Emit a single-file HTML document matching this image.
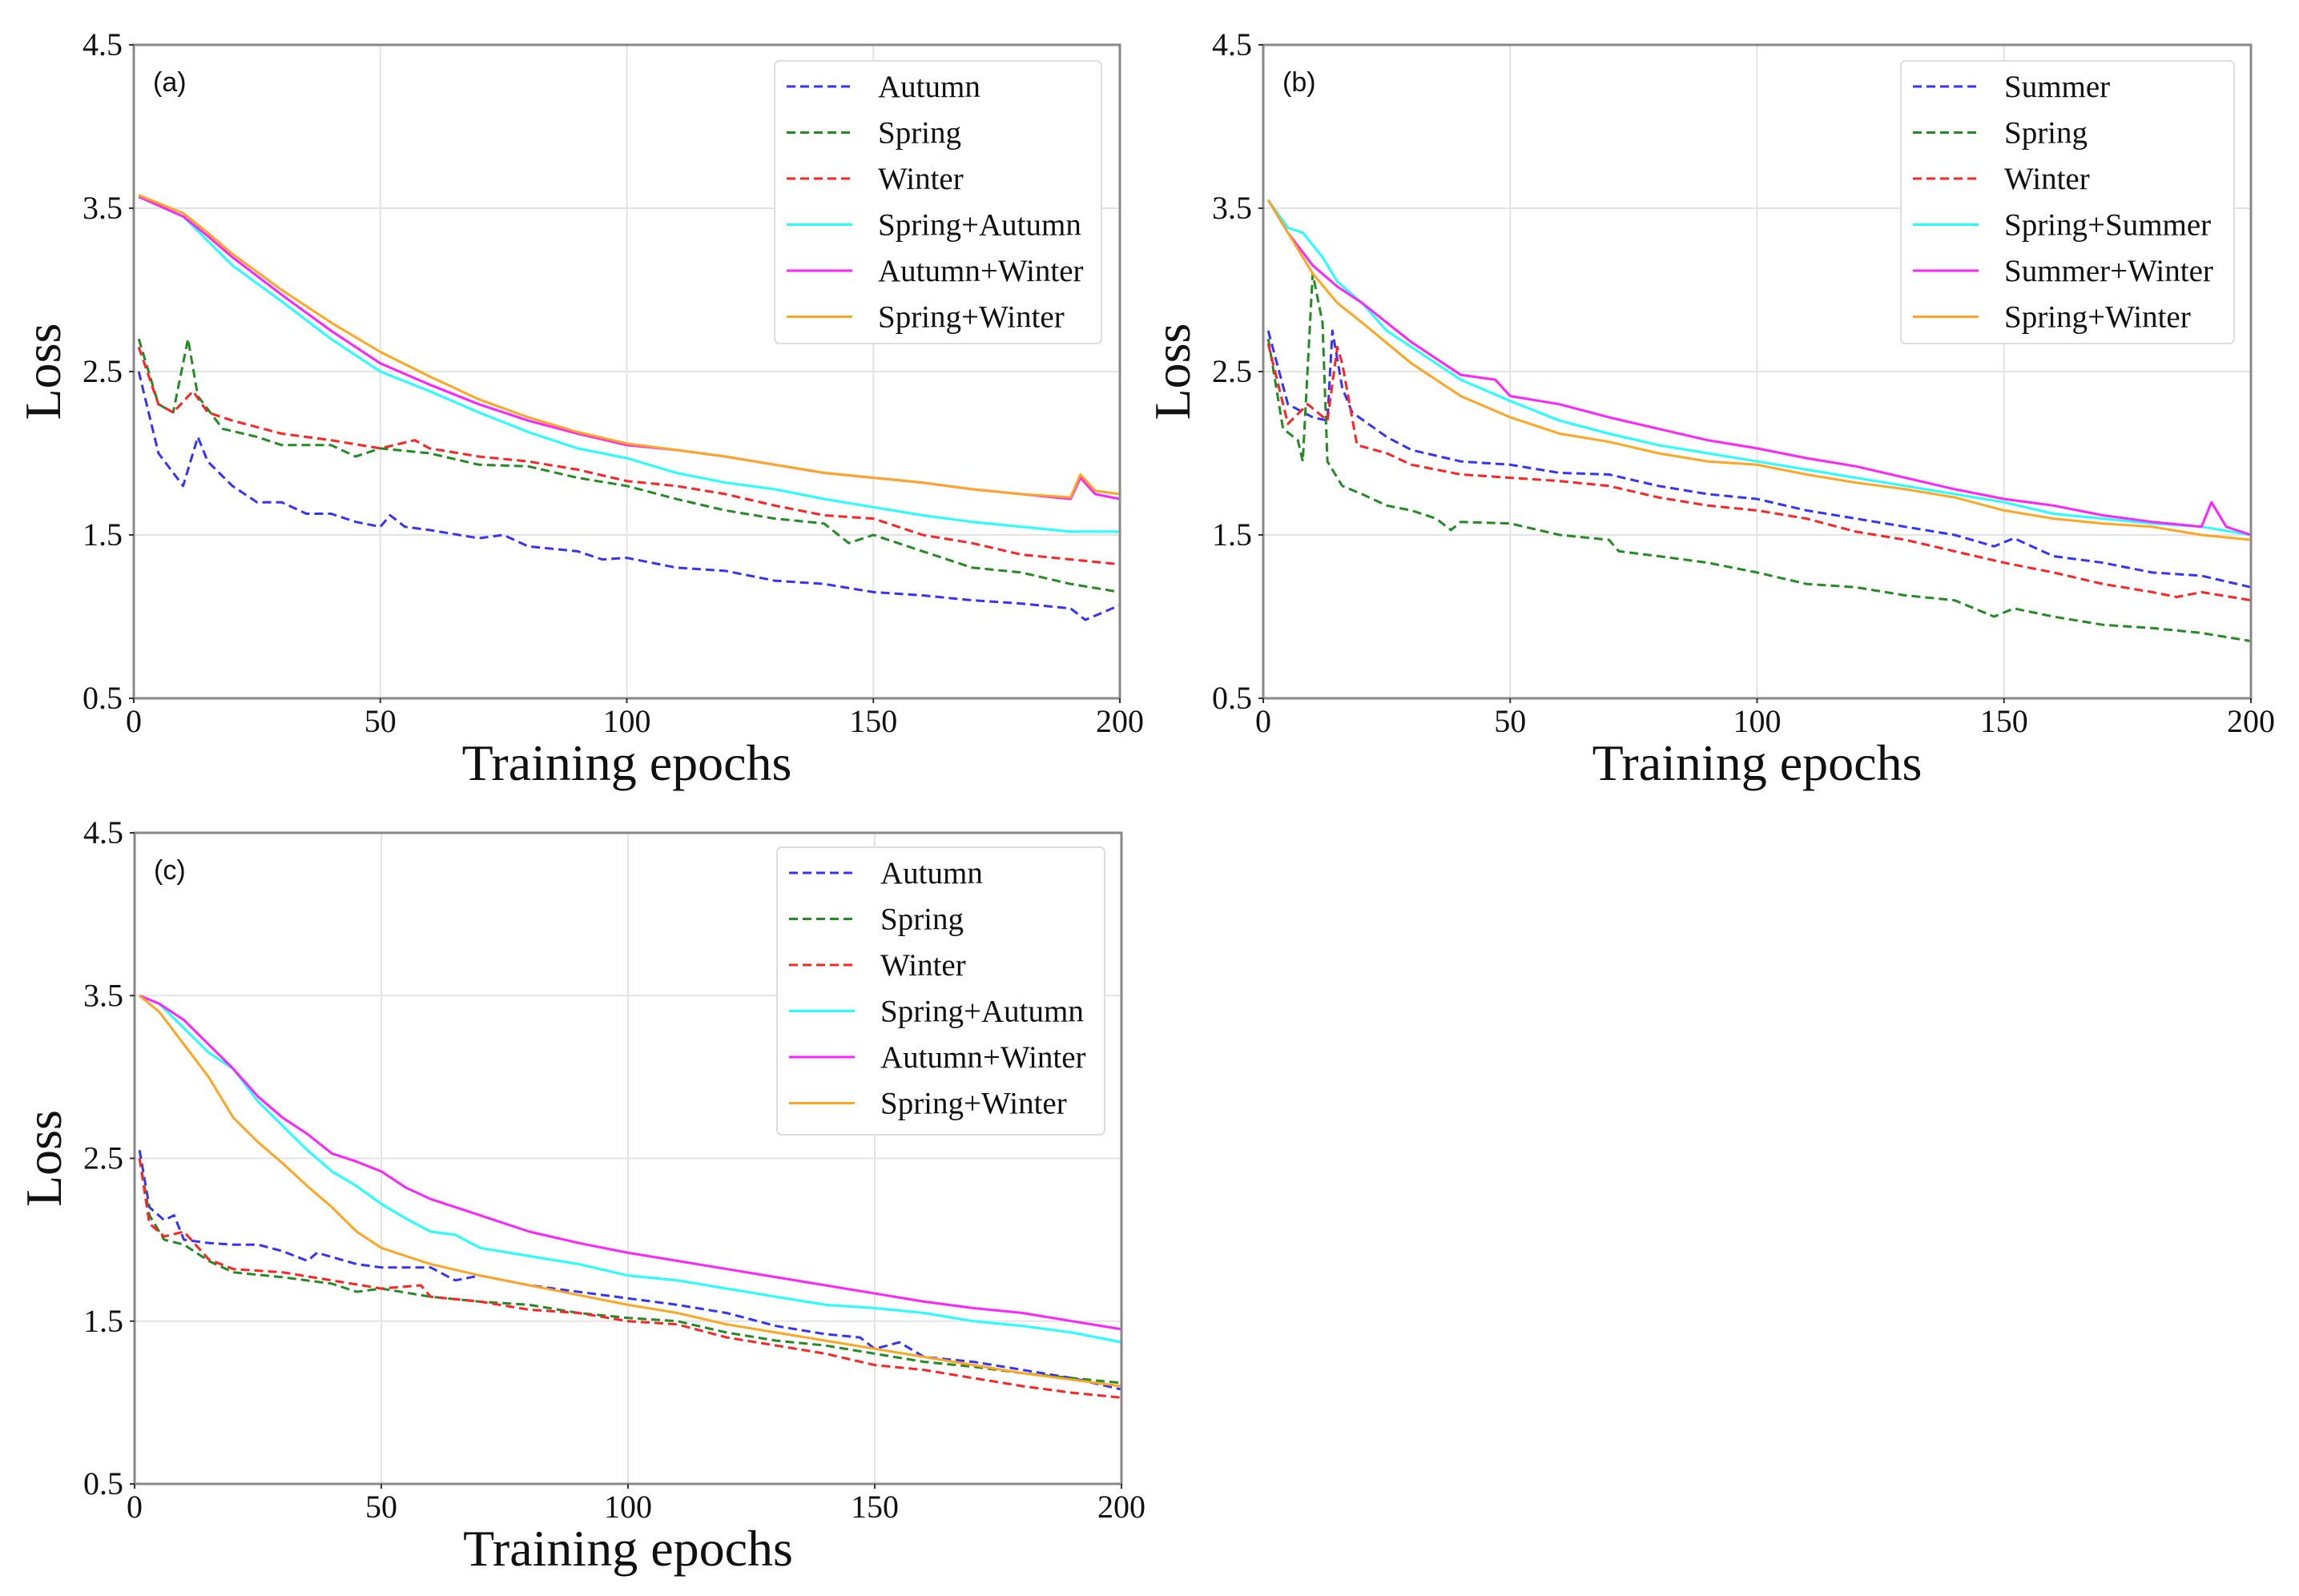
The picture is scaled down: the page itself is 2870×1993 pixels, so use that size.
<!DOCTYPE html>
<html><head><meta charset="utf-8"><style>
html,body{margin:0;padding:0;background:#fff;}
svg{display:block;}
</style></head><body>
<svg id="fig" width="2870" height="1993" viewBox="0 0 2870 1993" xmlns="http://www.w3.org/2000/svg"></svg>
<script>
// ---- data: panel (a) ----
const aAutumnX=[1,5,10,13,15,20,25,30,35,40,45,50,52,55,60,70,75,80,90,95,100,110,120,130,140,150,160,170,180,190,193,200];
const aAutumnY=[2.5,2.0,1.8,2.1,1.95,1.8,1.7,1.7,1.63,1.63,1.58,1.55,1.62,1.55,1.53,1.48,1.5,1.43,1.4,1.35,1.36,1.3,1.28,1.22,1.2,1.15,1.13,1.1,1.08,1.05,0.98,1.07];
const aSpringX=[1,5,8,11,13,18,25,30,40,45,50,60,70,80,90,100,110,120,130,140,145,150,160,170,180,190,200];
const aSpringY=[2.7,2.3,2.25,2.7,2.35,2.15,2.1,2.05,2.05,1.98,2.03,2.0,1.93,1.92,1.85,1.8,1.72,1.65,1.6,1.57,1.45,1.5,1.4,1.3,1.27,1.2,1.15];
const aWinterX=[1,5,8,12,15,20,30,40,50,57,60,70,80,90,100,110,120,130,140,150,160,170,180,190,200];
const aWinterY=[2.65,2.3,2.25,2.38,2.25,2.2,2.12,2.08,2.03,2.08,2.03,1.98,1.95,1.9,1.83,1.8,1.75,1.68,1.62,1.6,1.5,1.45,1.38,1.35,1.32];
const aSAX=[1,10,15,20,30,40,50,60,70,80,90,100,110,120,130,140,150,160,170,180,190,200];
const aSAY=[3.57,3.45,3.3,3.15,2.93,2.7,2.5,2.38,2.25,2.13,2.03,1.97,1.88,1.82,1.78,1.72,1.67,1.62,1.58,1.55,1.52,1.52];
const aAWX=[1,10,15,20,30,40,50,60,70,80,90,100,110,120,130,140,150,160,170,180,190,192,195,200];
const aAWY=[3.57,3.45,3.33,3.2,2.97,2.75,2.55,2.42,2.3,2.2,2.12,2.05,2.02,1.98,1.93,1.88,1.85,1.82,1.78,1.75,1.72,1.85,1.75,1.72];
const aSWX=[1,10,15,20,30,40,50,60,70,80,90,100,110,120,130,140,150,160,170,180,190,192,195,200];
const aSWY=[3.58,3.47,3.35,3.22,3.0,2.8,2.62,2.47,2.33,2.22,2.13,2.06,2.02,1.98,1.93,1.88,1.85,1.82,1.78,1.75,1.73,1.87,1.77,1.75];
// ---- data: panel (b) ----
const bSummerX=[1,5,10,13,14,16,18,25,30,40,50,60,70,80,90,100,110,120,130,140,148,152,160,170,180,190,200];
const bSummerY=[2.75,2.3,2.22,2.2,2.75,2.4,2.25,2.1,2.02,1.95,1.93,1.88,1.87,1.8,1.75,1.72,1.65,1.6,1.55,1.5,1.43,1.48,1.37,1.33,1.27,1.25,1.18];
const bSpringX=[1,4,7,8,10,12,13,16,20,25,30,35,38,40,50,60,70,72,80,90,100,110,120,130,140,148,152,160,170,180,190,200];
const bSpringY=[2.7,2.15,2.08,1.95,3.1,2.8,1.95,1.8,1.75,1.68,1.65,1.6,1.53,1.58,1.57,1.5,1.47,1.4,1.37,1.33,1.27,1.2,1.18,1.13,1.1,1.0,1.05,1.0,0.95,0.93,0.9,0.85];
const bWinterX=[1,5,9,13,15,16,19,25,30,40,50,60,70,80,90,100,110,120,130,140,150,160,170,180,185,190,200];
const bWinterY=[2.67,2.18,2.3,2.2,2.65,2.55,2.05,2.0,1.93,1.87,1.85,1.83,1.8,1.73,1.68,1.65,1.6,1.52,1.47,1.4,1.33,1.27,1.2,1.15,1.12,1.15,1.1];
const bSSX=[1,5,8,12,15,20,25,30,40,50,60,70,80,90,100,110,120,130,140,150,160,170,180,190,200];
const bSSY=[3.55,3.38,3.35,3.2,3.05,2.92,2.75,2.65,2.45,2.32,2.2,2.12,2.05,2.0,1.95,1.9,1.85,1.8,1.75,1.7,1.63,1.6,1.57,1.55,1.5];
const bSWiX=[1,5,10,15,20,30,40,47,50,60,70,80,90,100,110,120,130,140,150,160,170,180,190,192,195,200];
const bSWiY=[3.55,3.35,3.15,3.02,2.92,2.68,2.48,2.45,2.35,2.3,2.22,2.15,2.08,2.03,1.97,1.92,1.85,1.78,1.72,1.68,1.62,1.58,1.55,1.7,1.55,1.5];
const bSpWX=[1,5,10,15,20,30,40,50,60,70,80,90,100,110,120,130,140,150,160,170,180,190,200];
const bSpWY=[3.55,3.35,3.1,2.92,2.8,2.55,2.35,2.22,2.12,2.07,2.0,1.95,1.93,1.87,1.82,1.78,1.73,1.65,1.6,1.57,1.55,1.5,1.47];
// ---- data: panel (c) ----
const cAutumnX=[1,3,6,8,10,15,20,25,30,35,37,45,50,60,65,70,80,90,100,110,120,130,140,147,150,155,160,170,180,190,200];
const cAutumnY=[2.55,2.2,2.12,2.15,2.0,1.98,1.97,1.97,1.93,1.87,1.92,1.85,1.83,1.83,1.75,1.78,1.72,1.68,1.64,1.6,1.55,1.47,1.42,1.4,1.33,1.37,1.28,1.25,1.2,1.15,1.08];
const cSpringX=[1,3,6,10,15,20,30,40,45,50,60,70,80,90,100,110,120,130,140,150,160,170,180,190,200];
const cSpringY=[2.5,2.15,2.0,1.97,1.87,1.8,1.77,1.73,1.68,1.7,1.65,1.62,1.6,1.55,1.52,1.5,1.43,1.38,1.35,1.3,1.25,1.22,1.18,1.15,1.12];
const cWinterX=[1,3,6,10,15,20,30,40,50,58,60,70,80,90,100,110,120,130,140,150,160,170,180,190,200];
const cWinterY=[2.5,2.1,2.02,2.05,1.88,1.82,1.8,1.75,1.7,1.72,1.65,1.62,1.57,1.55,1.5,1.48,1.4,1.35,1.3,1.23,1.2,1.15,1.1,1.06,1.03];
const cSAX=[1,5,10,15,20,25,30,35,40,45,50,55,60,65,70,80,90,100,110,120,130,140,150,160,170,180,190,200];
const cSAY=[3.5,3.45,3.3,3.15,3.05,2.85,2.7,2.55,2.42,2.33,2.22,2.13,2.05,2.03,1.95,1.9,1.85,1.78,1.75,1.7,1.65,1.6,1.58,1.55,1.5,1.47,1.43,1.37];
const cAWX=[1,5,10,15,20,25,30,35,40,45,50,55,60,70,80,90,100,110,120,130,140,150,160,170,180,190,200];
const cAWY=[3.5,3.45,3.35,3.2,3.05,2.88,2.75,2.65,2.53,2.48,2.42,2.32,2.25,2.15,2.05,1.98,1.92,1.87,1.82,1.77,1.72,1.67,1.62,1.58,1.55,1.5,1.45];
const cSWX=[1,5,10,15,20,25,30,35,40,45,50,55,60,70,80,90,100,110,120,130,140,150,160,170,180,190,200];
const cSWY=[3.5,3.4,3.2,3.0,2.75,2.6,2.47,2.33,2.2,2.05,1.95,1.9,1.85,1.78,1.72,1.66,1.6,1.55,1.48,1.43,1.38,1.33,1.28,1.23,1.18,1.14,1.1];
const xTicks=[0,50,100,150,200];
const yTicks=[0.5,1.5,2.5,3.5,4.5];
const labelsA=["Autumn","Spring","Winter","Spring+Autumn","Autumn+Winter","Spring+Winter"];
const labelsB=["Summer","Spring","Winter","Spring+Summer","Summer+Winter","Spring+Winter"];

const NS="http://www.w3.org/2000/svg";
const svg=document.getElementById('fig');
function mk(tag,attrs,parent){const e=document.createElementNS(NS,tag);for(const k in attrs)e.setAttribute(k,attrs[k]);(parent||svg).appendChild(e);return e;}
const colors=["#3333ff","#228b22","#ff2222","#22ffff","#ff22ff","#ffa520"];
const dashed=[true,true,true,false,false,false];

function panel(cfg){
  const g=mk('g',{});
  
  
  const {x0,x1,y0,y1}=cfg;
  const sx=v=>x0+(v-0)/200*(x1-x0);
  const sy=v=>y0-(v-0.5)/4*(y0-y1);
  xTicks.forEach(t=>{const l=mk('line',{x1:sx(t),x2:sx(t),y1:y1,y2:y0,stroke:'#e3e3e3','stroke-width':2},g);
    });
  yTicks.forEach(t=>{const l=mk('line',{x1:x0,x2:x1,y1:sy(t),y2:sy(t),stroke:'#e3e3e3','stroke-width':2},g);
    });
  cfg.series.forEach((s,i)=>{
    const d=s[0].map((x,j)=>(j?'L':'M')+sx(x).toFixed(1)+','+sy(s[1][j]).toFixed(1)).join(' ');
    const p=mk('path',{d:d,fill:'none',stroke:colors[i],'stroke-width':3,'stroke-linejoin':'round'},g);
    if(dashed[i])p.setAttribute('stroke-dasharray','11,6');
    
    
  });
  const fr=mk('rect',{x:x0,y:y1,width:x1-x0,height:y0-y1,fill:'none',stroke:'#888','stroke-width':3},g);
  
  xTicks.forEach(t=>{const tx=mk('text',{x:sx(t),y:y0+42,'text-anchor':'middle','font-family':'Liberation Serif, serif','font-size':40,fill:'#111'},g);
    tx.textContent=t;
    mk('line',{x1:sx(t),x2:sx(t),y1:y0,y2:y0+6,stroke:'#333','stroke-width':2},g);});
  yTicks.forEach(t=>{const tx=mk('text',{x:x0-14,y:sy(t)+13,'text-anchor':'end','font-family':'Liberation Serif, serif','font-size':40,fill:'#111'},g);
    tx.textContent=t.toFixed(1);
    mk('line',{x1:x0-6,x2:x0,y1:sy(t),y2:sy(t),stroke:'#333','stroke-width':2},g);});
  const xt=mk('text',{x:(x0+x1)/2,y:y0+102,'text-anchor':'middle','font-family':'Liberation Serif, serif','font-size':64,fill:'#111'},g);
  xt.textContent='Training epochs';
  const ycx=x0-92, ycy=(y0+y1)/2;
  const yt=mk('text',{x:ycx,y:ycy,'text-anchor':'middle','font-family':'Liberation Serif, serif','font-size':64,fill:'#111',transform:`rotate(-90 ${ycx} ${ycy})`},g);
  yt.textContent='Loss';
  const pl=mk('text',{x:x0+24,y:y1+58,'font-family':'Liberation Sans, sans-serif','font-size':34,fill:'#111'},g);
  pl.textContent='('+cfg.id+')';
  const L=cfg.leg;
  const lg=mk('g',{},g);
  mk('rect',{x:L.x,y:L.y,width:L.w,height:L.h,rx:6,fill:'#fff',stroke:'#ddd','stroke-width':2},lg);
  cfg.labels.forEach((lab,i)=>{
    const cy=L.y+32+i*57.5;
    const e=mk('g',{},lg);
    const ln=mk('line',{x1:L.x+15,x2:L.x+97,y1:cy,y2:cy,stroke:colors[i],'stroke-width':3},e);
    if(dashed[i])ln.setAttribute('stroke-dasharray','11,6');
    const t=mk('text',{x:L.x+129,y:cy+13,'font-family':'Liberation Serif, serif','font-size':39,fill:'#111'},e);
    t.textContent=lab;
  });
}
panel({id:'a',x0:167,x1:1398,y0:872,y1:56,labels:labelsA,leg:{x:967,y:76,w:408,h:353},
  series:[[aAutumnX,aAutumnY],[aSpringX,aSpringY],[aWinterX,aWinterY],[aSAX,aSAY],[aAWX,aAWY],[aSWX,aSWY]]});
panel({id:'b',x0:1577,x1:2810,y0:872,y1:56,labels:labelsB,leg:{x:2373,y:76,w:416,h:353},
  series:[[bSummerX,bSummerY],[bSpringX,bSpringY],[bWinterX,bWinterY],[bSSX,bSSY],[bSWiX,bSWiY],[bSpWX,bSpWY]]});
panel({id:'c',x0:168,x1:1400,y0:1853,y1:1040,labels:labelsA,leg:{x:970,y:1058,w:409,h:359},
  series:[[cAutumnX,cAutumnY],[cSpringX,cSpringY],[cWinterX,cWinterY],[cSAX,cSAY],[cAWX,cAWY],[cSWX,cSWY]]});
</script>
</body></html>
